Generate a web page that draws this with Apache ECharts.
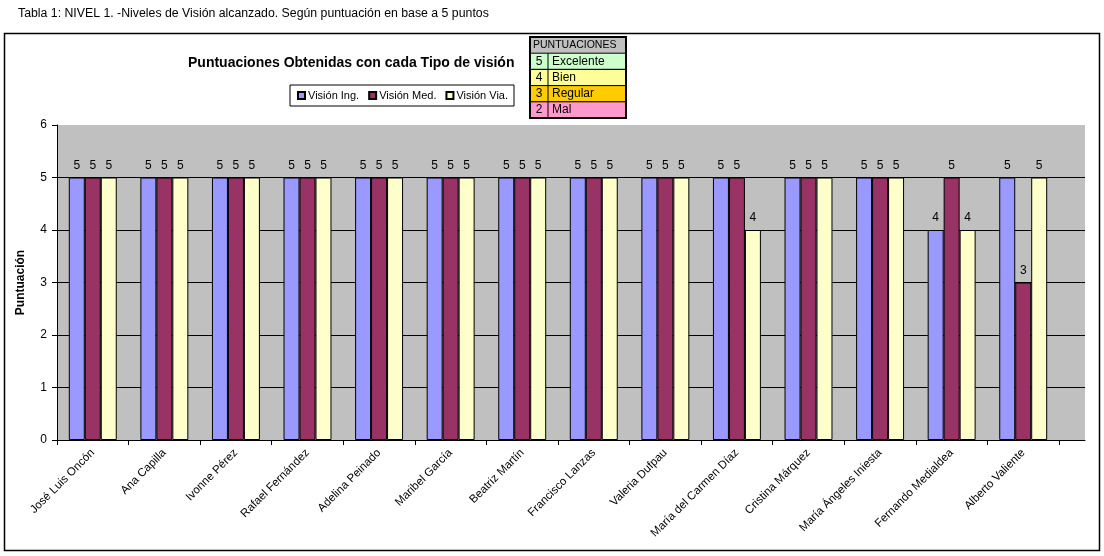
<!DOCTYPE html>
<html>
<head>
<meta charset="utf-8">
<script src="https://cdn.jsdelivr.net/npm/echarts@6/dist/echarts.min.js"></script>
<style>
html,body{margin:0;padding:0;background:#fff;}
#chart{width:1104px;height:556px;}
</style>
</head>
<body>
<div id="chart"></div>
<script>
const categories = ['José Luis Oncón','Ana Capilla','Ivonne Pérez','Rafael Fernández','Adelina Peinado','Maribel García','Beatriz Martín','Francisco Lanzas','Valeria Dufpau','María del Carmen Díaz','Cristina Márquez','María Ángeles Iniesta','Fernando Medialdea','Alberto Valiente'];
const seriesNames = ['Visión Ing.','Visión Med.','Visión Via.'];
const visionIng = [5,5,5,5,5,5,5,5,5,5,5,5,4,5];
const visionMed = [5,5,5,5,5,5,5,5,5,5,5,5,5,3];
const visionVia = [5,5,5,5,5,5,5,5,5,4,5,5,4,5];
const yTicks = [0,1,2,3,4,5,6];
const tableHeader = 'PUNTUACIONES';
const tableScores = [5,4,3,2];
const tableLabels = ['Excelente','Bien','Regular','Mal'];
const tableColors = ['#CCFFCC','#FFFF99','#FFCC00','#FF99CC'];
const seriesColors = ['#9999FF','#993366','#FFFFCC'];
const captionText = 'Tabla 1: NIVEL 1. -Niveles de Visión alcanzado. Según puntuación en base a 5 puntos';
const titleText = 'Puntuaciones Obtenidas con cada Tipo de visión';
const yName = 'Puntuación';

const FONT = '"Liberation Sans", Arial, sans-serif';
const chart = echarts.init(document.getElementById('chart'));

// Puntuaciones table graphics
const tX = 530, tW = 96, tY = 37, rowH = 16.2, colX = 548;
const tableEls = [];
tableEls.push({type:'rect', shape:{x:tX, y:tY, width:tW, height:rowH}, style:{fill:'#C0C0C0'}});
tableEls.push({type:'text', style:{x:tX+3, y:tY+rowH/2, text:tableHeader, fontSize:10.5, fontFamily:FONT, fill:'#000', verticalAlign:'middle'}});
tableScores.forEach((s,i)=>{
  const y = tY + rowH*(i+1);
  tableEls.push({type:'rect', shape:{x:tX, y:y, width:tW, height:rowH}, style:{fill:tableColors[i], stroke:'#000', lineWidth:1}});
  tableEls.push({type:'line', shape:{x1:colX, y1:y, x2:colX, y2:y+rowH}, style:{stroke:'#000', lineWidth:1}});
  tableEls.push({type:'text', style:{x:(tX+colX)/2, y:y+rowH/2, text:String(s), fontSize:12, fontFamily:FONT, fill:'#000', align:'center', verticalAlign:'middle'}});
  tableEls.push({type:'text', style:{x:colX+4, y:y+rowH/2, text:tableLabels[i], fontSize:12, fontFamily:FONT, fill:'#000', verticalAlign:'middle'}});
});
tableEls.push({type:'rect', shape:{x:tX, y:tY, width:tW, height:rowH*5}, style:{fill:'none', stroke:'#000', lineWidth:2}});

const seriesData = [visionIng, visionMed, visionVia];

const option = {
  backgroundColor:'#fff',
  animation:false,
  textStyle:{fontFamily:FONT},
  title:{text:titleText, left:183, top:51, textStyle:{fontSize:14, fontWeight:'bold', fontFamily:FONT, color:'#000'}},
  legend:{
    data:seriesNames, left:290, top:85, orient:'horizontal',
    borderColor:'#000', borderWidth:1, padding:[5,6,5,7], itemGap:9,
    itemWidth:7, itemHeight:7, icon:'rect',
    textStyle:{fontSize:11, fontFamily:FONT, color:'#000', padding:[0,0,0,-2]}
  },
  graphic:[
    {type:'rect', shape:{x:4.5, y:33.5, width:1095, height:517}, style:{fill:'none', stroke:'#000', lineWidth:1.5}, z:-1},
    {type:'text', style:{x:18, y:14, text:captionText, fontSize:12.3, fontFamily:FONT, fill:'#000', verticalAlign:'middle'}},
    {type:'group', children:tableEls}
  ],
  grid:[
    {left:57, right:45, top:125, bottom:116, show:true, backgroundColor:'#C0C0C0', borderWidth:0},
    {left:1059, right:19, top:125, bottom:116, show:true, backgroundColor:'#C0C0C0', borderWidth:0}
  ],
  xAxis:[
    {type:'category', data:categories, gridIndex:0,
     axisLine:{lineStyle:{color:'#000', width:1}},
     axisTick:{show:true, length:5, lineStyle:{color:'#000'}},
     axisLabel:{rotate:45, fontSize:11.5, color:'#000', fontFamily:FONT, margin:11, interval:0}},
    {type:'category', data:[''], gridIndex:1,
     axisLine:{lineStyle:{color:'#000', width:1}}, axisTick:{show:false}, axisLabel:{show:false}}
  ],
  yAxis:[
    {type:'value', min:0, max:6, interval:1, gridIndex:0,
     name:yName, nameLocation:'middle', nameGap:30, nameRotate:90,
     nameTextStyle:{fontSize:12, fontWeight:'bold', color:'#000', fontFamily:FONT},
     axisLine:{show:true, lineStyle:{color:'#000'}},
     axisTick:{show:true, length:5, lineStyle:{color:'#000'}},
     axisLabel:{fontSize:12, color:'#000', margin:10, fontFamily:FONT, formatter:v=>yTicks.includes(v)?String(v):''},
     splitLine:{show:true, showMaxLine:false, lineStyle:{color:'#000', width:1}}},
    {type:'value', min:0, max:6, interval:1, gridIndex:1,
     axisLine:{show:false}, axisTick:{show:false}, axisLabel:{show:false},
     splitLine:{show:true, showMaxLine:false, lineStyle:{color:'#000', width:1}}}
  ],
  series: seriesNames.map((n,i)=>({
    name:n, type:'bar', xAxisIndex:0, yAxisIndex:0, data:seriesData[i],
    barGap:'0%', barCategoryGap:'33%',
    itemStyle:{color:seriesColors[i], borderColor:'#000', borderWidth:1},
    label:{show:true, position:'top', distance:6, fontSize:12, color:'#000', fontFamily:FONT}
  }))
};
chart.setOption(option);
</script>
</body>
</html>
